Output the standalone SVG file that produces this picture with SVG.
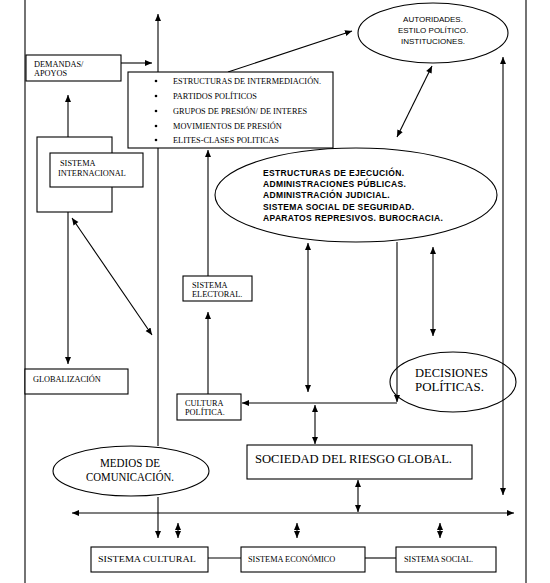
<svg xmlns="http://www.w3.org/2000/svg" width="550" height="583" viewBox="0 0 550 583">
<style>
.ln{stroke:#000;stroke-width:1.1;fill:none}
.bx{stroke:#000;stroke-width:1.1;fill:#fff}
.el{stroke:#000;stroke-width:1.1;fill:none}
.t{font-family:"Liberation Serif",serif;fill:#000;font-size:8.3px}
.a{font-family:"Liberation Sans",sans-serif;fill:#000;font-size:8px}
.b{font-family:"Liberation Sans",sans-serif;fill:#000;font-size:8.5px;font-weight:bold;letter-spacing:0.35px}
.m{font-family:"Liberation Serif",serif;fill:#000;font-size:13px}
</style>
<defs>
<marker id="ah" markerWidth="8" markerHeight="8" refX="7" refY="4" orient="auto" markerUnits="userSpaceOnUse">
<path d="M0,1 L7,4 L0,7 Z" fill="#000"/>
</marker>
<marker id="as" markerWidth="8" markerHeight="8" refX="0" refY="4" orient="auto" markerUnits="userSpaceOnUse">
<path d="M7,1 L0,4 L7,7 Z" fill="#000"/>
</marker>
</defs>

<g id="frame">
<line class="ln" x1="25" y1="0" x2="25" y2="583"/>
<line class="ln" x1="526" y1="0" x2="526" y2="583"/>
</g>

<g id="connectors">
<line class="ln" x1="158" y1="446" x2="158" y2="14" marker-end="url(#ah)"/>
<line class="ln" x1="121" y1="63" x2="152" y2="63" marker-end="url(#ah)"/>
<line class="ln" x1="68" y1="137" x2="68" y2="95" marker-end="url(#ah)"/>
<line class="ln" x1="68" y1="187" x2="68" y2="364" marker-end="url(#ah)"/>
<line class="ln" x1="72" y1="218" x2="152" y2="335" marker-start="url(#as)" marker-end="url(#ah)"/>
<line class="ln" x1="208" y1="276" x2="208" y2="150" marker-end="url(#ah)"/>
<line class="ln" x1="208" y1="394" x2="208" y2="312" marker-end="url(#ah)"/>
<line class="ln" x1="228" y1="72" x2="352" y2="31" marker-end="url(#ah)"/>
<line class="ln" x1="432" y1="66" x2="397" y2="137" marker-start="url(#as)" marker-end="url(#ah)"/>
<line class="ln" x1="308" y1="243" x2="308" y2="392" marker-start="url(#as)" marker-end="url(#ah)"/>
<line class="ln" x1="397" y1="242" x2="397" y2="402" marker-end="url(#ah)"/>
<line class="ln" x1="397" y1="403" x2="242" y2="403" marker-end="url(#ah)"/>
<line class="ln" x1="433" y1="247" x2="433" y2="336" marker-start="url(#as)" marker-end="url(#ah)"/>
<line class="ln" x1="503" y1="495" x2="503" y2="57" marker-start="url(#as)" marker-end="url(#ah)"/>
<line class="ln" x1="315" y1="405" x2="315" y2="444" marker-start="url(#as)" marker-end="url(#ah)"/>
<line class="ln" x1="358" y1="480" x2="358" y2="512" marker-start="url(#as)" marker-end="url(#ah)"/>
<line class="ln" x1="72" y1="513" x2="514" y2="513" marker-start="url(#as)" marker-end="url(#ah)"/>
<line class="ln" x1="158" y1="497" x2="158" y2="538" marker-end="url(#ah)"/>
<line class="ln" x1="178" y1="523" x2="178" y2="538" marker-start="url(#as)" marker-end="url(#ah)"/>
<line class="ln" x1="297" y1="523" x2="297" y2="538" marker-start="url(#as)" marker-end="url(#ah)"/>
<line class="ln" x1="440" y1="523" x2="440" y2="538" marker-start="url(#as)" marker-end="url(#ah)"/>
<line class="ln" x1="208" y1="558" x2="241" y2="558"/>
<line class="ln" x1="365" y1="558" x2="396" y2="558"/>
</g>

<g id="demandas">
<rect class="bx" x="26" y="55" width="95" height="26"/>
<text class="t" x="34" y="67" font-size="8">DEMANDAS/</text>
<text class="t" x="34" y="76" font-size="8">APOYOS</text>
</g>

<g id="intermediacion">
<rect class="bx" x="128" y="72" width="205" height="76"/>
<g fill="#000"><circle cx="156" cy="81" r="1.3"/><circle cx="156" cy="96" r="1.3"/><circle cx="156" cy="111" r="1.3"/><circle cx="156" cy="126" r="1.3"/><circle cx="156" cy="140" r="1.3"/></g>
<text class="t" x="173" y="84">ESTRUCTURAS  DE INTERMEDIACIÓN.</text>
<text class="t" x="173" y="99">PARTIDOS POLÍTICOS</text>
<text class="t" x="173" y="114">GRUPOS DE PRESIÓN/  DE INTERES</text>
<text class="t" x="173" y="129">MOVIMIENTOS DE PRESIÓN</text>
<text class="t" x="173" y="143">ELITES-CLASES  POLITICAS</text>
</g>

<g id="autoridades">
<ellipse class="el" cx="433" cy="33" rx="75" ry="30"/>
<text class="a" x="433" y="22" text-anchor="middle">AUTORIDADES.</text>
<text class="a" x="433" y="33" text-anchor="middle">ESTILO  POLÍTICO.</text>
<text class="a" x="433" y="44" text-anchor="middle">INSTITUCIONES.</text>
</g>

<g id="internacional">
<rect class="bx" x="37" y="137" width="75" height="75"/>
<rect class="bx" x="50" y="153" width="93" height="34"/>
<text class="t" x="60" y="166" font-size="8">SISTEMA</text>
<text class="t" x="58" y="176" font-size="8">INTERNACIONAL</text>
</g>

<g id="ejecucion">
<ellipse class="el" cx="356" cy="195" rx="141" ry="47"/>
<text class="b" x="263" y="176">ESTRUCTURAS DE EJECUCIÓN.</text>
<text class="b" x="263" y="187">ADMINISTRACIONES  PÚBLICAS.</text>
<text class="b" x="263" y="198">ADMINISTRACIÓN  JUDICIAL.</text>
<text class="b" x="263" y="210">SISTEMA SOCIAL DE SEGURIDAD.</text>
<text class="b" x="263" y="221">APARATOS  REPRESIVOS.  BUROCRACIA.</text>
</g>

<g id="electoral">
<rect class="bx" x="183" y="276" width="69" height="25"/>
<text class="t" x="192" y="288" font-size="8">SISTEMA</text>
<text class="t" x="192" y="297" font-size="8">ELECTORAL.</text>
</g>

<g id="globalizacion">
<rect class="bx" x="25" y="369" width="103" height="25"/>
<text class="t" x="33" y="382" font-size="8">GLOBALIZACIÓN</text>
</g>

<g id="decisiones">
<ellipse class="el" cx="453" cy="382" rx="63" ry="30"/>
<text class="m" x="415" y="377" font-size="14.5" textLength="73" lengthAdjust="spacingAndGlyphs">DECISIONES</text>
<text class="m" x="415" y="391" font-size="14.5" textLength="69" lengthAdjust="spacingAndGlyphs">POLÍTICAS.</text>
</g>

<g id="cultura">
<rect class="bx" x="177" y="394" width="64" height="26"/>
<text class="t" x="185" y="406" font-size="8">CULTURA</text>
<text class="t" x="185" y="415" font-size="8">POLÍTICA.</text>
</g>

<g id="sociedad">
<rect class="bx" x="247" y="445" width="225" height="34"/>
<text class="m" x="255" y="463" font-size="13.5" textLength="197" lengthAdjust="spacingAndGlyphs">SOCIEDAD DEL RIESGO GLOBAL.</text>
</g>

<g id="medios">
<ellipse class="bx" cx="131" cy="471" rx="78" ry="25"/>
<text class="m" x="100" y="467" font-size="12.5" textLength="60" lengthAdjust="spacingAndGlyphs">MEDIOS DE</text>
<text class="m" x="86" y="481" font-size="12.5" textLength="88" lengthAdjust="spacingAndGlyphs">COMUNICACIÓN.</text>
</g>

<g id="cultural">
<rect class="bx" x="91" y="547" width="117" height="25"/>
<text class="t" x="98" y="562" font-size="9" textLength="98" lengthAdjust="spacingAndGlyphs">SISTEMA CULTURAL</text>
</g>
<g id="economico">
<rect class="bx" x="241" y="547" width="124" height="25"/>
<text class="t" x="248" y="562" font-size="8.5">SISTEMA ECONÓMICO</text>
</g>
<g id="social">
<rect class="bx" x="396" y="547" width="100" height="25"/>
<text class="t" x="404" y="562" font-size="8.5">SISTEMA SOCIAL.</text>
</g>
</svg>
